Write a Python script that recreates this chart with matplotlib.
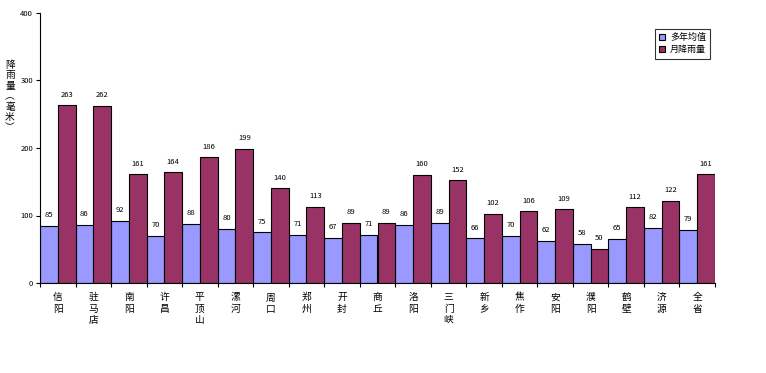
import numpy as np
import matplotlib.pyplot as plt

plt.rcParams['font.family'] = ['Noto Sans CJK SC', 'DejaVu Sans']

# 地区
cities = ['信阳', '驻马店', '南阳', '许昌', '平顶山', '漯河', '周口', '郑州', '开封', '商丘',
          '洛阳', '三门峡', '新乡', '焦作', '安阳', '濮阳', '鹤壁', '济源', '全省']
# 多年均值
avg_rain = [85, 86, 92, 70, 88, 80, 75, 71, 67, 71, 86, 89, 66, 70, 62, 58, 65, 82, 79]
# 月降雨量
month_rain = [263, 262, 161, 164, 186, 199, 140, 113, 89, 89, 160, 152, 102, 106, 109, 50, 112, 122, 161]

fig = plt.figure(figsize=(7.66, 3.73), dpi=100)
ax = fig.add_axes([40 / 766, 1 - 283 / 373, 675 / 766, 270 / 373])

x = np.arange(len(cities))
w = 0.5
b1 = ax.bar(x - w / 2, avg_rain, w, color='#9999FF', edgecolor='black', linewidth=0.8, label='多年均值')
b2 = ax.bar(x + w / 2, month_rain, w, color='#993366', edgecolor='black', linewidth=0.8, label='月降雨量')

for rect, v in zip(list(b1) + list(b2), avg_rain + month_rain):
    ax.text(rect.get_x() + rect.get_width() / 2, v + 10, str(v), ha='center', va='bottom', fontsize=5.5)

ax.set_xlim(-0.5, len(cities) - 0.5)
ax.set_ylim(0, 400)
ax.set_yticks([0, 100, 200, 300, 400])
ax.tick_params(axis='y', labelsize=5.5, length=3, pad=2)

# 刻度在组之间，标签在组中间
ax.set_xticks(np.arange(len(cities) + 1) - 0.5)
ax.set_xticklabels([])
ax.tick_params(axis='x', length=3)
for i, c in enumerate(cities):
    ax.text(i, -14, '\n'.join(c), ha='center', va='top', fontsize=7, linespacing=1.15)

ax.spines['top'].set_visible(False)
ax.spines['right'].set_visible(False)

fig.text(10 / 766, 1 - 60 / 373, '\n'.join('降雨量︵毫米︶'), ha='center', va='top',
         fontsize=7, linespacing=1.05)

leg = ax.legend(loc='upper left', bbox_to_anchor=((650 - 40) / 675, 1 - 11 / 270), fontsize=6.5,
                frameon=True, fancybox=False, edgecolor='black', handlelength=0.7, handleheight=0.7,
                handletextpad=0.5, borderpad=0.5, labelspacing=0.35)
leg.get_frame().set_linewidth(0.8)

fig.savefig('out.png', dpi=100)
